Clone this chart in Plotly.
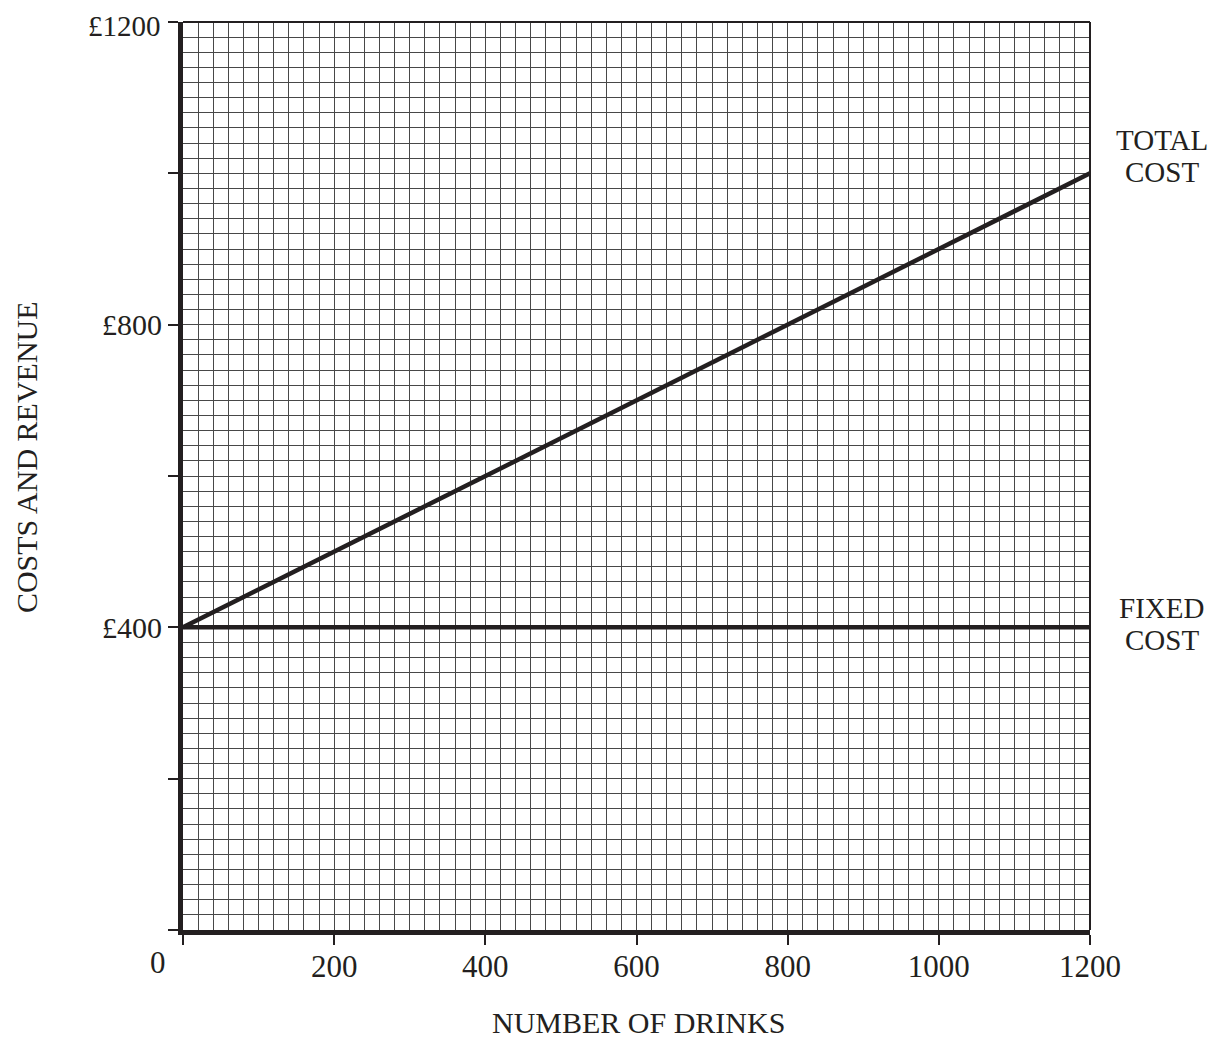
import plotly.graph_objects as go

drinks = [0, 1200]
total_cost = [400, 1000]
fixed_cost = [400, 400]

x_ticks = [0, 200, 400, 600, 800, 1000, 1200]
x_ticktext = ["", "200", "400", "600", "800", "1000", "1200"]
y_ticks = [0, 200, 400, 600, 800, 1000, 1200]
y_ticktext = ["", "", "£400", "", "£800", "", ""]
top_label = "£1200"

ink = "#231f20"
gridc = "#484848"
font = "Liberation Serif"

fig = go.Figure()
fig.add_trace(go.Scatter(x=drinks, y=fixed_cost, mode="lines",
                         line=dict(color=ink, width=4.5), showlegend=False))
fig.add_trace(go.Scatter(x=drinks, y=total_cost, mode="lines",
                         line=dict(color=ink, width=4.5), showlegend=False))

axis_common = dict(
    range=[0, 1200], showline=True, linewidth=5, linecolor=ink,
    ticks="outside", ticklen=10, tickwidth=2, tickcolor=ink,
    showgrid=True, gridcolor=gridc, gridwidth=1.1, zeroline=False,
    ticklabeloverflow="allow", automargin=False,
    minor=dict(dtick=20, showgrid=True, gridcolor=gridc, gridwidth=1.1, ticks=""),
)

fig.update_xaxes(**axis_common, tickvals=x_ticks, ticktext=x_ticktext,
                 tickfont=dict(family=font, size=31, color=ink),
                 ticklabelstandoff=-5)
fig.update_yaxes(**axis_common, tickvals=y_ticks, ticktext=y_ticktext,
                 tickfont=dict(family=font, size=30, color=ink))

# top and right thin borders
fig.add_shape(type="line", xref="paper", yref="paper", x0=0, x1=1, y0=1, y1=1,
              line=dict(color=ink, width=2))
fig.add_shape(type="line", xref="paper", yref="paper", x0=1, x1=1, y0=0, y1=1,
              line=dict(color=ink, width=2))

ann_font = dict(family=font, size=29, color=ink)
title_font = dict(family=font, size=30, color=ink)


def label(text, x, y, f=ann_font, angle=0, xa="center"):
    fig.add_annotation(text=text, xref="paper", yref="paper", x=x, y=y,
                       showarrow=False, font=f, xanchor=xa,
                       yanchor="middle", textangle=angle)


label(top_label, -0.0215, 0.9955, dict(family=font, size=29, color=ink), xa="right")
label("0", -0.028, -0.036, dict(family=font, size=31, color=ink))
label("TOTAL", 1.079, 0.870)
label("COST", 1.079, 0.835)
label("FIXED", 1.079, 0.3546)
label("COST", 1.079, 0.3194)
label("COSTS AND REVENUE", -0.1718, 0.521, title_font, -90)
label("NUMBER OF DRINKS", 0.502, -0.1020, title_font)

fig.update_layout(
    width=1210, height=1030,
    margin=dict(l=175, r=128, t=14, b=108),
    plot_bgcolor="white", paper_bgcolor="white",
)

fig.write_html("out.html")
